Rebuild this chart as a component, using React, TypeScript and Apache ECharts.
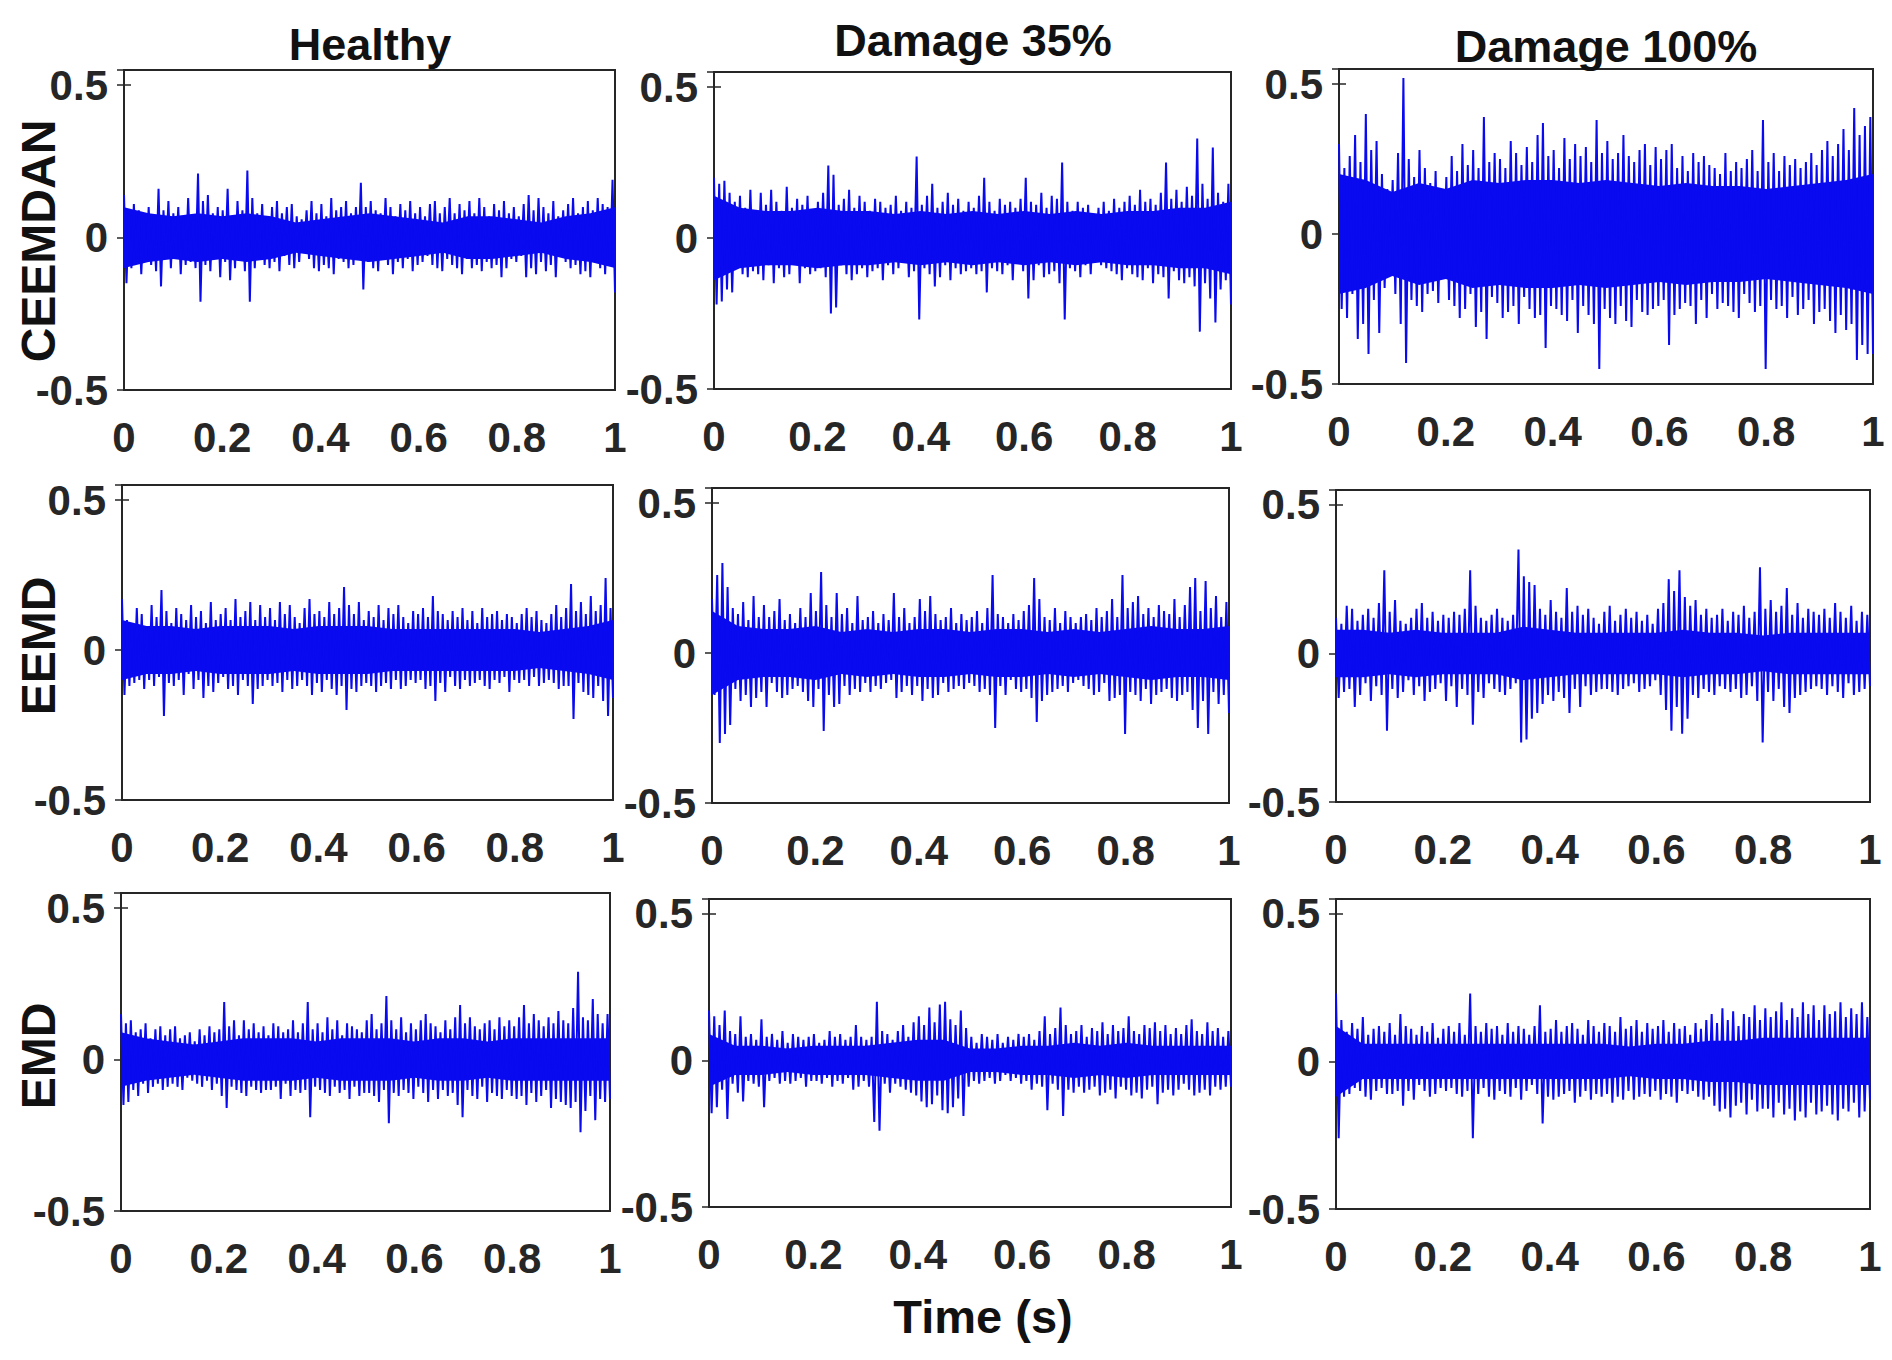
import { useEffect, useRef } from "react";
import * as echarts from "echarts";

const methods = ["CEEMDAN", "EEMD", "EMD"];
const conditions = ["Healthy", "Damage 35%", "Damage 100%"];
const xTicks = [0, 0.2, 0.4, 0.6, 0.8, 1];
const yTicks = [-0.5, 0, 0.5];

// residual signals, ~200 samples over 1 s each
const ceemdanHealthy = [
  .14,-.15,.08,-.10,.11,-.07,.09,-.12,.06,-.08,.10,-.09,.07,-.11,.16,-.16,.09,-.07,.12,-.10,
  .08,-.06,.10,-.12,.07,-.09,.13,-.08,.06,-.10,.21,-.21,.12,-.09,.14,-.11,.08,-.07,.10,-.13,
  .09,-.08,.16,-.14,.07,-.10,.12,-.06,.09,-.11,.22,-.21,.13,-.10,.08,-.07,.11,-.09,.07,-.10,
  .10,-.08,.12,-.11,.08,-.06,.10,-.09,.11,-.10,.07,-.08,.06,-.05,.09,-.07,.12,-.10,.08,-.11,
  .11,-.09,.07,-.10,.13,-.12,.09,-.07,.10,-.08,.12,-.10,.08,-.09,.10,-.07,.18,-.17,.10,-.08,
  .12,-.10,.09,-.11,.08,-.07,.13,-.09,.10,-.12,.07,-.08,.11,-.10,.09,-.07,.12,-.11,.08,-.09,
  .10,-.08,.07,-.06,.11,-.09,.12,-.10,.08,-.11,.10,-.07,.13,-.09,.08,-.10,.11,-.12,.09,-.07,
  .12,-.10,.08,-.09,.13,-.11,.10,-.08,.07,-.10,.11,-.09,.09,-.13,.12,-.10,.08,-.07,.10,-.08,
  .07,-.06,.11,-.13,.14,-.10,.09,-.12,.13,-.08,.10,-.11,.08,-.09,.12,-.13,.07,-.06,.09,-.08,
  .11,-.10,.13,-.09,.08,-.12,.10,-.11,.12,-.13,.09,-.08,.13,-.10,.11,-.12,.10,-.09,.19,-.18,
];
const ceemdan35 = [
  .20,-.22,.18,-.21,.19,-.17,.15,-.18,.12,-.10,.14,-.12,.10,-.13,.16,-.11,.09,-.12,.15,-.14,
  .11,-.09,.16,-.15,.12,-.10,.09,-.13,.17,-.12,.10,-.08,.13,-.15,.11,-.10,.14,-.12,.09,-.11,
  .12,-.10,.15,-.13,.24,-.25,.21,-.23,.11,-.09,.13,-.12,.16,-.14,.10,-.12,.14,-.10,.12,-.13,
  .09,-.11,.13,-.10,.12,-.14,.10,-.09,.11,-.12,.14,-.10,.09,-.08,.12,-.13,.10,-.11,.27,-.27,
  .11,-.10,.14,-.12,.18,-.16,.10,-.13,.12,-.09,.15,-.14,.11,-.10,.13,-.12,.09,-.11,.12,-.10,
  .10,-.12,.14,-.11,.20,-.18,.12,-.10,.09,-.11,.13,-.12,.11,-.09,.12,-.14,.10,-.08,.13,-.11,
  .20,-.20,.12,-.14,.11,-.09,.15,-.13,.10,-.12,.14,-.11,.13,-.15,.25,-.27,.12,-.10,.09,-.11,
  .12,-.13,.10,-.09,.11,-.12,.08,-.07,.10,-.09,.12,-.10,.09,-.11,.13,-.12,.10,-.14,.12,-.10,
  .14,-.12,.11,-.13,.16,-.14,.12,-.10,.13,-.15,.11,-.12,.15,-.13,.25,-.20,.13,-.11,.16,-.14,
  .12,-.15,.17,-.13,.14,-.16,.33,-.31,.18,-.15,.13,-.20,.30,-.28,.15,-.17,.12,-.14,.18,-.22,
];
const ceemdan100 = [
  .30,-.25,.22,-.28,.26,-.20,.33,-.35,.24,-.30,.40,-.40,.28,-.22,.31,-.33,.20,-.18,.15,-.12,
  .18,-.20,.27,-.30,.52,-.43,.25,-.22,.19,-.24,.28,-.26,.22,-.20,.17,-.19,.21,-.23,.15,-.14,
  .19,-.22,.26,-.24,.21,-.28,.30,-.25,.23,-.20,.28,-.31,.22,-.26,.39,-.35,.24,-.21,.27,-.23,
  .25,-.28,.22,-.26,.31,-.24,.27,-.30,.23,-.21,.29,-.25,.24,-.28,.33,-.27,.37,-.38,.26,-.24,
  .28,-.25,.22,-.27,.32,-.29,.25,-.22,.30,-.33,.26,-.24,.29,-.27,.24,-.30,.38,-.45,.27,-.25,
  .31,-.28,.25,-.30,.27,-.24,.33,-.29,.26,-.31,.24,-.22,.28,-.26,.30,-.27,.23,-.25,.29,-.24,
  .25,-.22,.28,-.37,.30,-.27,.22,-.25,.26,-.23,.21,-.24,.27,-.30,.24,-.22,.26,-.28,.23,-.20,
  .22,-.25,.20,-.23,.27,-.24,.21,-.26,.24,-.28,.22,-.20,.25,-.23,.28,-.26,.21,-.24,.38,-.45,
  .24,-.22,.27,-.25,.21,-.24,.26,-.28,.23,-.21,.25,-.27,.22,-.25,.24,-.22,.27,-.30,.23,-.26,
  .28,-.25,.31,-.29,.26,-.33,.30,-.27,.35,-.32,.28,-.30,.42,-.42,.33,-.37,.36,-.40,.39,-.40,
];
const eemdHealthy = [
  .17,-.15,.10,-.12,.09,-.11,.14,-.10,.12,-.13,.08,-.10,.15,-.12,.11,-.09,.20,-.22,.13,-.11,
  .09,-.12,.14,-.10,.12,-.15,.10,-.08,.15,-.13,.11,-.10,.13,-.16,.09,-.12,.16,-.14,.10,-.11,
  .12,-.09,.14,-.13,.10,-.12,.17,-.15,.11,-.10,.13,-.12,.16,-.18,.10,-.13,.15,-.12,.11,-.10,
  .14,-.12,.10,-.11,.16,-.14,.12,-.10,.15,-.13,.11,-.12,.09,-.10,.14,-.12,.17,-.15,.12,-.11,
  .13,-.14,.11,-.10,.16,-.13,.12,-.15,.14,-.12,.21,-.20,.15,-.13,.12,-.14,.16,-.12,.10,-.11,
  .13,-.12,.11,-.14,.15,-.12,.10,-.11,.14,-.13,.12,-.10,.15,-.13,.11,-.12,.09,-.10,.13,-.11,
  .12,-.10,.14,-.13,.11,-.12,.18,-.17,.13,-.11,.12,-.14,.10,-.09,.13,-.12,.11,-.13,.14,-.10,
  .10,-.12,.13,-.11,.09,-.10,.14,-.12,.11,-.13,.12,-.10,.13,-.11,.10,-.09,.12,-.14,.11,-.10,
  .09,-.11,.12,-.10,.14,-.12,.11,-.09,.13,-.12,.10,-.11,.09,-.10,.12,-.11,.15,-.13,.11,-.12,
  .14,-.12,.22,-.23,.13,-.11,.16,-.14,.12,-.15,.18,-.16,.13,-.12,.15,-.17,.24,-.22,.14,-.16,
];
const eemd35 = [
  .18,-.14,.26,-.30,.30,-.27,.22,-.24,.15,-.12,.13,-.16,.17,-.14,.11,-.18,.19,-.15,.12,-.13,
  .16,-.18,.12,-.10,.14,-.13,.18,-.15,.11,-.14,.13,-.12,.10,-.11,.15,-.13,.12,-.16,.20,-.18,
  .14,-.12,.27,-.26,.16,-.14,.12,-.18,.20,-.17,.13,-.11,.15,-.14,.10,-.12,.19,-.13,.11,-.10,
  .12,-.13,.14,-.11,.10,-.12,.13,-.10,.11,-.09,.20,-.15,.12,-.13,.15,-.11,.10,-.14,.12,-.11,
  .18,-.16,.14,-.12,.19,-.15,.13,-.14,.11,-.10,.12,-.13,.15,-.12,.10,-.11,.13,-.12,.11,-.10,
  .12,-.11,.14,-.13,.10,-.12,.15,-.14,.26,-.25,.13,-.11,.12,-.14,.10,-.09,.13,-.12,.11,-.13,
  .14,-.12,.16,-.15,.25,-.23,.18,-.16,.12,-.14,.11,-.13,.15,-.12,.10,-.11,.14,-.13,.12,-.10,
  .10,-.09,.12,-.11,.13,-.12,.11,-.14,.15,-.13,.12,-.10,.14,-.16,.18,-.15,.12,-.14,.26,-.27,
  .15,-.13,.17,-.14,.19,-.16,.13,-.12,.15,-.17,.12,-.14,.16,-.13,.14,-.12,.13,-.15,.18,-.16,
  .12,-.14,.16,-.13,.22,-.19,.25,-.25,.14,-.16,.24,-.27,.15,-.13,.19,-.17,.12,-.14,.17,-.20,
];
const eemd100 = [
  .12,-.15,.10,-.13,.16,-.12,.15,-.18,.11,-.14,.13,-.10,.15,-.16,.12,-.11,.17,-.14,.28,-.26,
  .14,-.12,.18,-.15,.11,-.13,.10,-.09,.12,-.14,.15,-.11,.17,-.16,.12,-.13,.14,-.12,.11,-.10,
  .13,-.16,.12,-.11,.14,-.18,.13,-.12,.15,-.14,.28,-.24,.16,-.13,.12,-.15,.11,-.10,.13,-.12,
  .15,-.13,.12,-.14,.11,-.12,.13,-.10,.35,-.30,.26,-.29,.24,-.22,.23,-.20,.15,-.17,.13,-.14,
  .18,-.16,.14,-.13,.12,-.15,.22,-.20,.14,-.12,.16,-.18,.13,-.11,.15,-.14,.12,-.13,.10,-.12,
  .14,-.12,.16,-.13,.11,-.14,.13,-.12,.15,-.11,.12,-.10,.14,-.13,.11,-.12,.13,-.11,.10,-.09,
  .15,-.14,.17,-.19,.25,-.26,.21,-.18,.28,-.27,.19,-.22,.16,-.14,.18,-.15,.13,-.12,.15,-.13,
  .12,-.14,.13,-.11,.15,-.12,.11,-.13,.14,-.12,.13,-.15,.16,-.14,.12,-.11,.14,-.16,.29,-.30,
  .15,-.13,.18,-.16,.14,-.12,.16,-.18,.22,-.20,.13,-.15,.17,-.14,.12,-.13,.15,-.12,.14,-.11,
  .13,-.12,.15,-.14,.12,-.11,.17,-.13,.14,-.15,.12,-.10,.16,-.14,.11,-.13,.14,-.12,.13,-.11,
];
const emdHealthy = [
  .15,-.15,.12,-.14,.13,-.10,.09,-.12,.10,-.08,.12,-.11,.07,-.09,.10,-.08,.11,-.10,.08,-.09,
  .10,-.08,.11,-.09,.07,-.10,.08,-.06,.09,-.07,.06,-.08,.10,-.09,.08,-.07,.11,-.10,.09,-.08,
  .10,-.12,.19,-.16,.11,-.09,.13,-.10,.08,-.11,.13,-.12,.10,-.09,.12,-.10,.09,-.11,.11,-.10,
  .08,-.10,.12,-.09,.11,-.13,.09,-.08,.10,-.12,.13,-.10,.09,-.11,.12,-.10,.19,-.19,.10,-.09,
  .12,-.10,.09,-.11,.14,-.12,.10,-.09,.13,-.11,.08,-.10,.12,-.13,.11,-.09,.10,-.12,.09,-.11,
  .13,-.11,.15,-.12,.10,-.14,.12,-.10,.21,-.21,.13,-.11,.10,-.12,.14,-.10,.09,-.11,.12,-.13,
  .10,-.09,.13,-.11,.15,-.14,.12,-.10,.11,-.13,.09,-.10,.13,-.12,.10,-.11,.14,-.15,.18,-.19,
  .12,-.10,.14,-.12,.11,-.13,.10,-.09,.12,-.14,.13,-.11,.10,-.12,.14,-.13,.11,-.10,.13,-.12,
  .11,-.13,.14,-.12,.18,-.15,.12,-.11,.15,-.14,.13,-.12,.11,-.10,.14,-.16,.12,-.13,.16,-.14,
  .13,-.15,.12,-.16,.17,-.14,.29,-.24,.14,-.17,.13,-.12,.20,-.20,.15,-.13,.12,-.14,.15,-.13,
];
const emd35 = [
  .17,-.18,.15,-.16,.12,-.10,.17,-.20,.10,-.08,.09,-.11,.15,-.14,.08,-.07,.09,-.08,.07,-.09,
  .14,-.16,.08,-.07,.09,-.06,.07,-.08,.10,-.07,.06,-.08,.09,-.07,.08,-.06,.07,-.09,.08,-.07,
  .09,-.07,.06,-.08,.07,-.06,.10,-.09,.08,-.07,.09,-.08,.07,-.06,.08,-.10,.12,-.09,.08,-.07,
  .07,-.09,.08,-.21,.20,-.24,.10,-.08,.09,-.11,.07,-.08,.10,-.09,.12,-.10,.08,-.11,.13,-.12,
  .15,-.14,.12,-.16,.18,-.15,.13,-.12,.19,-.17,.20,-.18,.14,-.16,.12,-.13,.17,-.19,.11,-.09,
  .08,-.07,.06,-.08,.09,-.07,.08,-.06,.07,-.08,.09,-.07,.06,-.05,.08,-.07,.07,-.06,.09,-.08,
  .08,-.07,.09,-.10,.07,-.08,.10,-.09,.15,-.17,.09,-.08,.11,-.10,.18,-.19,.12,-.10,.09,-.11,
  .10,-.09,.12,-.11,.08,-.10,.11,-.09,.10,-.12,.13,-.11,.09,-.10,.12,-.13,.10,-.09,.11,-.10,
  .15,-.12,.10,-.11,.09,-.13,.12,-.10,.11,-.09,.13,-.15,.10,-.11,.12,-.10,.09,-.12,.11,-.10,
  .09,-.08,.12,-.10,.14,-.12,.10,-.11,.09,-.10,.13,-.12,.10,-.09,.11,-.10,.08,-.09,.10,-.09,
];
const emd100 = [
  .23,-.26,.14,-.12,.10,-.11,.13,-.09,.11,-.10,.15,-.12,.09,-.13,.11,-.10,.12,-.09,.10,-.11,
  .13,-.11,.09,-.10,.16,-.15,.12,-.10,.11,-.13,.09,-.08,.12,-.10,.10,-.12,.13,-.11,.08,-.09,
  .11,-.10,.12,-.09,.10,-.11,.13,-.12,.09,-.10,.23,-.26,.12,-.11,.10,-.09,.13,-.12,.11,-.13,
  .12,-.10,.09,-.11,.13,-.12,.10,-.09,.12,-.13,.11,-.10,.09,-.08,.12,-.11,.19,-.21,.10,-.12,
  .11,-.13,.14,-.12,.10,-.11,.12,-.10,.13,-.14,.11,-.12,.09,-.10,.14,-.13,.12,-.11,.10,-.12,
  .13,-.11,.12,-.14,.10,-.12,.15,-.13,.11,-.10,.12,-.13,.14,-.12,.10,-.11,.13,-.12,.11,-.10,
  .12,-.13,.14,-.11,.10,-.12,.13,-.14,.11,-.10,.12,-.11,.09,-.10,.13,-.12,.11,-.13,.14,-.12,
  .16,-.15,.13,-.17,.18,-.16,.14,-.19,.17,-.15,.12,-.14,.16,-.18,.15,-.13,.19,-.17,.14,-.16,
  .18,-.16,.15,-.19,.17,-.14,.20,-.18,.14,-.16,.18,-.20,.15,-.17,.20,-.19,.16,-.14,.19,-.18,
  .14,-.17,.19,-.15,.16,-.18,.17,-.20,.20,-.16,.15,-.17,.18,-.14,.16,-.19,.20,-.17,.15,-.13,
];

// half-width of the solid blue core of each trace, read every 0.05 s
const ceemdanHealthyCore = [.10,.08,.07,.08,.07,.08,.07,.05,.06,.07,.08,.07,.06,.05,.07,.07,.06,.05,.07,.08,.10];
const ceemdan35Core = [.14,.10,.09,.09,.10,.09,.09,.08,.09,.08,.09,.08,.09,.08,.09,.08,.09,.09,.10,.10,.12];
const ceemdan100Core = [.20,.18,.14,.17,.15,.18,.17,.18,.18,.17,.18,.17,.16,.17,.16,.16,.15,.16,.17,.18,.20];
const eemdHealthyCore = [.10,.08,.08,.07,.08,.08,.08,.07,.08,.08,.08,.07,.07,.07,.07,.07,.07,.06,.07,.08,.10];
const eemd35Core = [.14,.09,.08,.08,.09,.07,.08,.07,.08,.08,.07,.08,.08,.07,.08,.07,.08,.09,.08,.08,.09];
const eemd100Core = [.08,.08,.07,.08,.07,.07,.07,.09,.08,.07,.07,.07,.07,.08,.07,.07,.06,.07,.07,.07,.07];
const emdHealthyCore = [.09,.07,.06,.05,.06,.07,.07,.07,.06,.07,.07,.07,.06,.07,.07,.06,.07,.07,.07,.07,.07];
const emd35Core = [.09,.05,.05,.04,.05,.05,.05,.06,.07,.07,.04,.04,.05,.05,.06,.05,.06,.05,.05,.05,.05];
const emd100Core = [.12,.06,.06,.06,.06,.06,.06,.06,.06,.06,.06,.05,.06,.06,.07,.07,.08,.08,.08,.08,.08];

const signals = [
  [ceemdanHealthy, ceemdan35, ceemdan100],
  [eemdHealthy, eemd35, eemd100],
  [emdHealthy, emd35, emd100],
];
const cores = [
  [ceemdanHealthyCore, ceemdan35Core, ceemdan100Core],
  [eemdHealthyCore, eemd35Core, eemd100Core],
  [emdHealthyCore, emd35Core, emd100Core],
];

// panel boxes in page px: left, top, width, height
const boxes = [
  [[124, 70, 491, 320], [714, 72, 517, 317], [1339, 69, 534, 315]],
  [[122, 485, 491, 315], [712, 488, 517, 315], [1336, 490, 534, 312]],
  [[121, 893, 489, 318], [709, 899, 522, 308], [1336, 899, 534, 310]],
];
const titlePos = [[370, 44], [973, 40], [1606, 46]];
const rowLabelPos = [[38, 241], [38, 646], [38, 1056]];

const FONT = '"Liberation Sans", Arial, Helvetica, sans-serif';
const INK = "#262626";
const BLUE = "#0a0af0";

export default function App() {
  const chartRef = useRef<HTMLDivElement>(null);

  useEffect(() => {
    if (!chartRef.current) return;
    document.body.style.margin = "0";
    const chart = echarts.init(chartRef.current, null, { renderer: "svg" });

    const grid: any[] = [];
    const xAxis: any[] = [];
    const yAxis: any[] = [];
    const series: any[] = [];

    signals.forEach((row, r) => {
      row.forEach((values, c) => {
        const k = grid.length;
        const [left, top, width, height] = boxes[r][c];
        grid.push({
          left, top, width, height,
          show: true,
          borderColor: INK,
          borderWidth: 2,
          containLabel: false,
        });
        const tick = { show: true, inside: true, length: 7, lineStyle: { color: INK, width: 1.5 } };
        // bottom axis with labels, top axis for the ticks only
        xAxis.push({
          type: "value", gridIndex: k, min: 0, max: 1, interval: 0.2, position: "bottom",
          axisLine: { show: false }, axisTick: tick, splitLine: { show: false },
          axisLabel: {
            margin: 26, color: INK, fontFamily: FONT, fontWeight: "bold", fontSize: 42,
            formatter: (v: number) => (xTicks.some((t) => Math.abs(t - v) < 1e-9) ? String(+v.toFixed(1)) : ""),
          },
        });
        xAxis.push({
          type: "value", gridIndex: k, min: 0, max: 1, interval: 0.2, position: "top",
          axisLine: { show: false }, axisTick: tick, splitLine: { show: false }, axisLabel: { show: false },
        });
        yAxis.push({
          type: "value", gridIndex: k, min: -0.5, max: 0.55, interval: 0.5, position: "left",
          axisLine: { show: false }, axisTick: tick, splitLine: { show: false },
          axisLabel: {
            margin: 16, color: INK, fontFamily: FONT, fontWeight: "bold", fontSize: 42,
            formatter: (v: number) => (yTicks.some((t) => Math.abs(t - v) < 1e-9) ? String(v) : ""),
          },
        });
        yAxis.push({
          type: "value", gridIndex: k, min: -0.5, max: 0.55, interval: 0.5, position: "right",
          axisLine: { show: false }, axisTick: tick, splitLine: { show: false }, axisLabel: { show: false },
        });

        // solid core band: upper and lower halves overlap slightly across zero
        const core = cores[r][c];
        [1, -1].forEach((sign) => {
          series.push({
            type: "line",
            xAxisIndex: k * 2,
            yAxisIndex: k * 2,
            data: core.map((v, i) => [i / (core.length - 1), sign * v]),
            showSymbol: false,
            lineStyle: { width: 0 },
            areaStyle: { color: BLUE, opacity: 1, origin: -sign * 0.02 },
            silent: true,
          });
        });
        series.push({
          type: "line",
          name: `${methods[r]} ${conditions[c]}`,
          xAxisIndex: k * 2,
          yAxisIndex: k * 2,
          data: values.map((v, i) => [i / (values.length - 1), v]),
          showSymbol: false,
          lineStyle: { color: BLUE, width: 2 },
          silent: true,
          clip: true,
        });
      });
    });

    const graphic: any[] = [];
    conditions.forEach((name, c) => {
      graphic.push({
        type: "text",
        x: titlePos[c][0],
        y: titlePos[c][1],
        style: {
          text: name, fill: "#111", font: `bold 45px ${FONT}`,
          align: "center", verticalAlign: "middle",
        },
      });
    });
    methods.forEach((name, r) => {
      graphic.push({
        type: "text",
        x: rowLabelPos[r][0],
        y: rowLabelPos[r][1],
        rotation: Math.PI / 2,
        style: {
          text: name, fill: "#111", font: `bold 48px ${FONT}`,
          align: "center", verticalAlign: "middle",
        },
      });
    });
    graphic.push({
      type: "text",
      x: 983,
      y: 1316,
      style: {
        text: "Time (s)", fill: "#111", font: `bold 47px ${FONT}`,
        align: "center", verticalAlign: "middle",
      },
    });

    chart.setOption({
      animation: false,
      backgroundColor: "#ffffff",
      grid,
      xAxis,
      yAxis,
      series,
      graphic,
    });

    return () => {
      chart.dispose();
    };
  }, []);

  return <div ref={chartRef} style={{ width: 1892, height: 1360 }} />;
}
